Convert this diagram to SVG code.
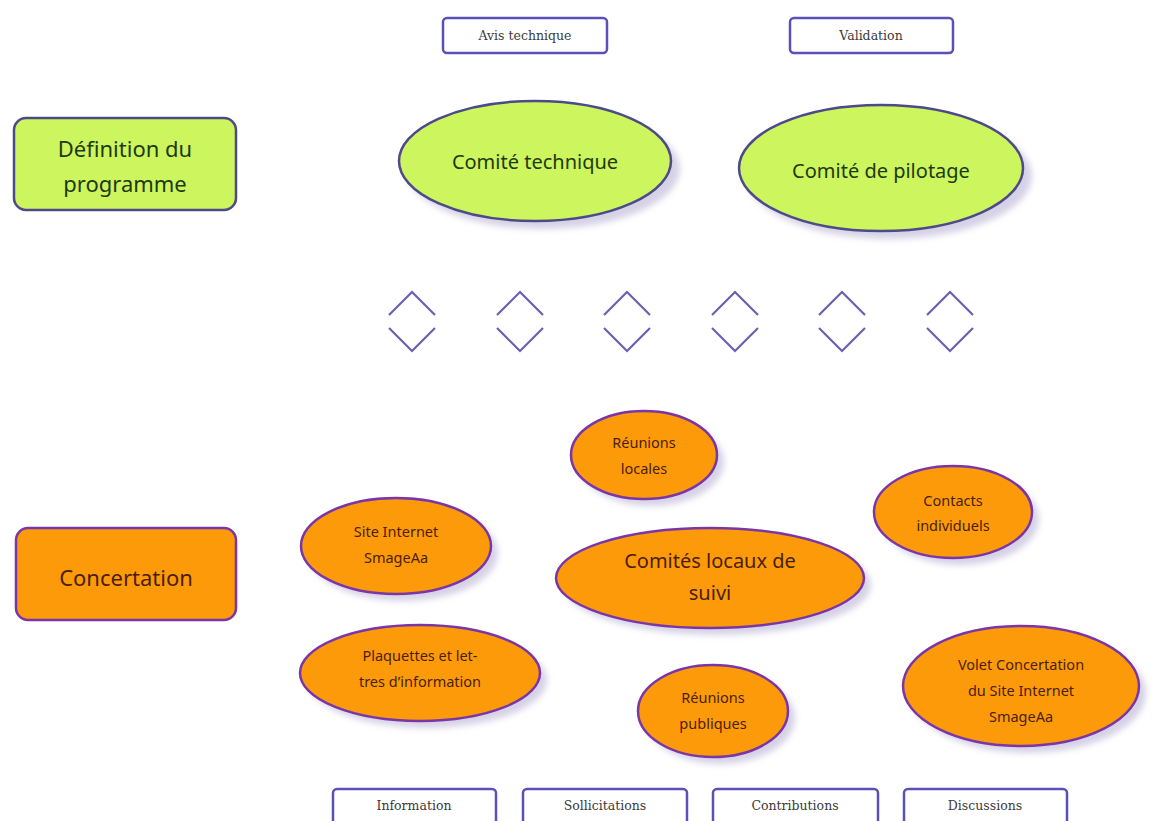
<svg xmlns="http://www.w3.org/2000/svg" width="1153" height="821" viewBox="0 0 1153 821">
<defs>
<filter id="sh" x="-20%" y="-20%" width="150%" height="150%">
<feGaussianBlur stdDeviation="3"/>
</filter>
<style>
.lbl{fill:#fff;stroke:#5b4fb8;stroke-width:2.5}
.lt{font-family:"DejaVu Serif","Liberation Serif",serif;font-size:12.5px;fill:#3a3a3a;text-anchor:middle}
.g{fill:#ccf55e;stroke:#4d4a8a;stroke-width:2.5}
.o{fill:#fd9a0a;stroke:#7a36a8;stroke-width:2.5}
.shd{fill:#d6d2e6;filter:url(#sh)}
.gt{font-family:"Noto Sans","DejaVu Sans",sans-serif;fill:#1e3a10;text-anchor:middle}
.ot{font-family:"Noto Sans","DejaVu Sans",sans-serif;fill:#4a1e05;text-anchor:middle}
.chev{fill:none;stroke:#6a62b0;stroke-width:2.2}
</style>
</defs>
<rect width="1153" height="821" fill="#fff"/>

<g id="avis"><rect class="lbl" x="443" y="18" width="164" height="35" rx="4"/><text class="lt" x="525" y="40">Avis technique</text></g>
<g id="validation"><rect class="lbl" x="790" y="18" width="163" height="35" rx="4"/><text class="lt" x="871" y="40">Validation</text></g>

<g id="definition"><rect class="g" x="14" y="118" width="222" height="92" rx="12"/>
<text class="gt" font-size="22" x="125" y="157">Définition du</text>
<text class="gt" font-size="22" x="125" y="192">programme</text></g>

<g id="comite-technique"><ellipse class="shd" cx="543" cy="169" rx="137" ry="60"/><ellipse class="g" cx="535" cy="161" rx="136" ry="60"/>
<text class="gt" font-size="20" x="535" y="169">Comité technique</text></g>

<g id="comite-pilotage"><ellipse class="shd" cx="889" cy="176" rx="143" ry="63"/><ellipse class="g" cx="881" cy="168" rx="142" ry="63"/>
<text class="gt" font-size="20" x="881" y="178">Comité de pilotage</text></g>

<g id="connectors">
<path class="chev" d="M389 315L412 292L435 315M389 328L412 351L435 328"/>
<path class="chev" d="M497 315L520 292L543 315M497 328L520 351L543 328"/>
<path class="chev" d="M604 315L627 292L650 315M604 328L627 351L650 328"/>
<path class="chev" d="M712 315L735 292L758 315M712 328L735 351L758 328"/>
<path class="chev" d="M819 315L842 292L865 315M819 328L842 351L865 328"/>
<path class="chev" d="M927 315L950 292L973 315M927 328L950 351L973 328"/>
</g>

<g id="concertation"><rect class="o" x="16" y="528" width="220" height="92" rx="12"/>
<text class="ot" font-size="22" x="126" y="586">Concertation</text></g>

<g id="reunions-locales"><ellipse class="shd" cx="651" cy="462" rx="73" ry="44"/><ellipse class="o" cx="644" cy="455" rx="73" ry="44"/>
<text class="ot" font-size="14.5" x="644" y="448">Réunions</text><text class="ot" font-size="14.5" x="644" y="474">locales</text></g>

<g id="site-internet"><ellipse class="shd" cx="403" cy="553" rx="95" ry="48"/><ellipse class="o" cx="396" cy="546" rx="95" ry="48"/>
<text class="ot" font-size="14.5" x="396" y="537">Site Internet</text><text class="ot" font-size="14.5" x="396" y="563">SmageAa</text></g>

<g id="contacts"><ellipse class="shd" cx="960" cy="519" rx="79" ry="46"/><ellipse class="o" cx="953" cy="512" rx="79" ry="46"/>
<text class="ot" font-size="14.5" x="953" y="506">Contacts</text><text class="ot" font-size="14.5" x="953" y="531">individuels</text></g>

<g id="comites-locaux"><ellipse class="shd" cx="717" cy="585" rx="154" ry="50"/><ellipse class="o" cx="710" cy="578" rx="154" ry="50"/>
<text class="ot" font-size="20" x="710" y="568">Comités locaux de</text><text class="ot" font-size="20" x="710" y="600">suivi</text></g>

<g id="plaquettes"><ellipse class="shd" cx="427" cy="680" rx="120" ry="48"/><ellipse class="o" cx="420" cy="673" rx="120" ry="48"/>
<text class="ot" font-size="14.5" x="420" y="661">Plaquettes et let-</text><text class="ot" font-size="14.5" x="420" y="687">tres d’information</text></g>

<g id="reunions-publiques"><ellipse class="shd" cx="720" cy="718" rx="75" ry="46"/><ellipse class="o" cx="713" cy="711" rx="75" ry="46"/>
<text class="ot" font-size="14.5" x="713" y="703">Réunions</text><text class="ot" font-size="14.5" x="713" y="729">publiques</text></g>

<g id="volet"><ellipse class="shd" cx="1028" cy="693" rx="118" ry="60"/><ellipse class="o" cx="1021" cy="686" rx="118" ry="60"/>
<text class="ot" font-size="14.5" x="1021" y="670">Volet Concertation</text><text class="ot" font-size="14.5" x="1021" y="696">du Site Internet</text><text class="ot" font-size="14.5" x="1021" y="722">SmageAa</text></g>

<g id="information"><rect class="lbl" x="333" y="789" width="163" height="36" rx="4"/><text class="lt" x="414" y="810">Information</text></g>
<g id="sollicitations"><rect class="lbl" x="523" y="789" width="164" height="36" rx="4"/><text class="lt" x="605" y="810">Sollicitations</text></g>
<g id="contributions"><rect class="lbl" x="713" y="789" width="165" height="36" rx="4"/><text class="lt" x="795" y="810">Contributions</text></g>
<g id="discussions"><rect class="lbl" x="904" y="789" width="163" height="36" rx="4"/><text class="lt" x="985" y="810">Discussions</text></g>
</svg>
